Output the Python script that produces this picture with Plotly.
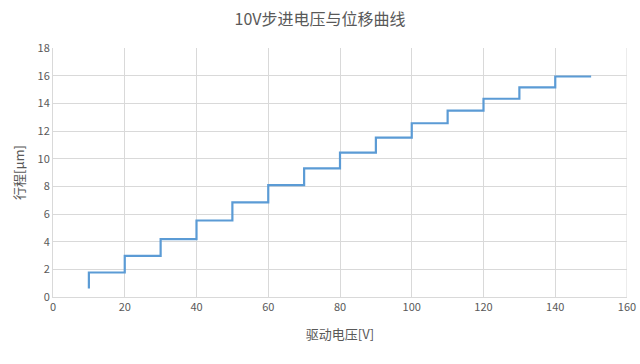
import plotly.graph_objects as go

voltage = [10, 10, 20, 30, 40, 50, 60, 70, 80, 90, 100, 110, 120, 130, 140, 150]
displacement = [0.61, 1.77, 2.97, 4.18, 5.53, 6.84, 8.09, 9.30, 10.43, 11.52,
                12.56, 13.48, 14.33, 15.15, 15.94, 15.94]
x_ticks = [0, 20, 40, 60, 80, 100, 120, 140, 160]
y_ticks = [0, 2, 4, 6, 8, 10, 12, 14, 16, 18]

font_fam = "Noto Sans CJK SC, Noto Sans, sans-serif"
grey = "#595959"

fig = go.Figure(go.Scatter(
    x=voltage, y=displacement, mode="lines", line_shape="hv",
    line=dict(color="#5b9bd5", width=2.2), showlegend=False,
))

fig.update_layout(
    width=640, height=364,
    paper_bgcolor="white", plot_bgcolor="white",
    margin=dict(l=53, r=13, t=48, b=67),
    font=dict(family=font_fam, color=grey, size=11),
    title=dict(text="10V步进电压与位移曲线", x=0.5, xanchor="center", y=0.948, yanchor="middle",
               font=dict(size=16, color=grey, family=font_fam)),
    xaxis=dict(range=[0, 160], tickvals=x_ticks, showgrid=True, gridcolor="#d9d9d9", gridwidth=1,
               zeroline=False, showline=True, linecolor="#d9d9d9", ticks="", automargin=False,
               title=dict(text="驱动电压[V]", font=dict(size=13, color=grey), standoff=16),
               tickfont=dict(size=11, color=grey)),
    yaxis=dict(range=[0, 18], tickvals=y_ticks, showgrid=True, gridcolor="#d9d9d9", gridwidth=1,
               zeroline=False, showline=True, linecolor="#d9d9d9", ticks="", automargin=False,
               title=dict(text="行程[μm]", font=dict(size=13, color=grey), standoff=10),
               tickfont=dict(size=11, color=grey)),
)
fig.add_shape(type="line", xref="x", yref="paper", x0=160, x1=160, y0=0, y1=1,
              line=dict(color="#d9d9d9", width=1))

# remove the browser's default page margin so the 640x364 figure fills the window
fig.write_html("out.html", config={"displayModeBar": False},
               post_script="document.body.style.margin='0';")
